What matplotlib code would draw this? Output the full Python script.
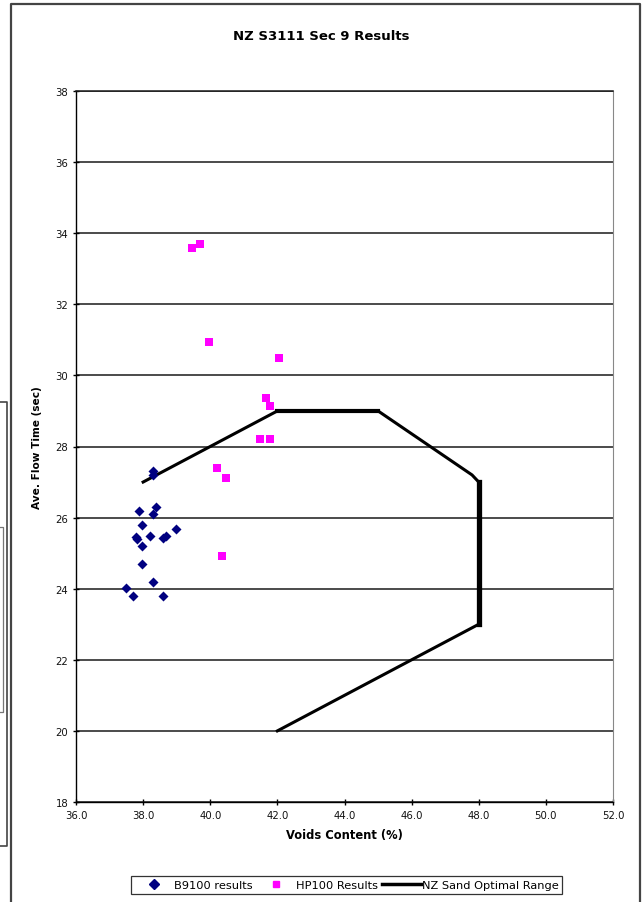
import matplotlib
matplotlib.use("Agg")
import matplotlib.pyplot as plt
from matplotlib.lines import Line2D

plt.rcParams['font.family'] = ['DejaVu Sans']

# Data
b9100_voids = [37.88, 38.38, 38.30, 37.98, 37.78, 37.82, 38.20, 38.60, 38.69, 38.99,
               37.98, 37.98, 38.30, 37.49, 37.70, 38.59, 38.28, 38.30]
b9100_flow = [26.19, 26.31, 26.10, 25.79, 25.45, 25.40, 25.47, 25.42, 25.47, 25.68,
              25.21, 24.70, 24.20, 24.01, 23.80, 23.80, 27.30, 27.20]

hp100_voids = [39.47, 39.68, 39.96, 42.04, 41.66, 41.78, 41.47, 41.78, 40.20, 40.48, 40.36]
hp100_flow = [33.58, 33.69, 30.95, 30.50, 29.36, 29.15, 28.21, 28.21, 27.39, 27.11, 24.93]

range_voids = [38.0, 42.0, 45.0, 47.8, 48.0, 48.0, 42.0]
range_flow = [27.0, 29.0, 29.0, 27.2, 27.0, 23.0, 20.0]

x_ticks = [36.0, 38.0, 40.0, 42.0, 44.0, 46.0, 48.0, 50.0, 52.0]
y_ticks = [18, 20, 22, 24, 26, 28, 30, 32, 34, 36, 38]

W, H = 643, 903
fig = plt.figure(figsize=(W / 100, H / 100), dpi=100)
fig.patch.set_facecolor('white')

left, right, top, bottom = 76, 613, 92, 803
ax = fig.add_axes([left / W, 1 - bottom / H, (right - left) / W, (bottom - top) / H])

ax.set_xlim(36, 52)
ax.set_ylim(18, 38)
ax.set_xticks(x_ticks)
ax.set_xticklabels([f"{v:.1f}" for v in x_ticks], fontsize=7.3)
ax.set_yticks(y_ticks)
ax.set_yticklabels([str(v) for v in y_ticks], fontsize=7.3)
ax.tick_params(direction='inout', length=5, width=1, color='black', pad=3,
               labelcolor='#111111')

ax.grid(axis='y', color='#1a1a1a', linewidth=1.1)
ax.set_axisbelow(True)
ax.spines['top'].set_color('#1a1a1a')
ax.spines['top'].set_linewidth(1.1)
ax.spines['right'].set_color('#888888')
ax.spines['right'].set_linewidth(0.8)
ax.spines['left'].set_color('black')
ax.spines['bottom'].set_color('black')
ax.spines['left'].set_linewidth(1.0)
ax.spines['bottom'].set_linewidth(1.0)

ax.plot(range_voids, range_flow, color='black', linewidth=2.2, solid_joinstyle='round',
        label='NZ Sand Optimal Range', zorder=2)
ax.plot(range_voids[4:6], range_flow[4:6], color='black', linewidth=3.8, zorder=2)
ax.plot(range_voids[1:3], range_flow[1:3], color='black', linewidth=3.0, zorder=2)

ax.scatter(b9100_voids, b9100_flow, marker='D', s=26, color='#000080', linewidths=0,
           label='B9100 results', zorder=3)
ax.scatter(hp100_voids, hp100_flow, marker='s', s=30, color='#FF00FF', linewidths=0,
           label='HP100 Results', zorder=3)

ax.set_xlabel('Voids Content (%)', fontsize=8.3, fontweight='bold', labelpad=6)
ax.set_ylabel('Ave. Flow Time (sec)', fontsize=7.6, fontweight='bold', labelpad=10)

fig.text(0.5, 1 - 36 / H, 'NZ S3111 Sec 9 Results', ha='center', va='center',
         fontsize=9.5, fontweight='bold')

handles = [
    Line2D([], [], marker='D', color='#000080', linestyle='none', markersize=4.8),
    Line2D([], [], marker='s', color='#FF00FF', linestyle='none', markersize=5),
    Line2D([], [], color='black', linewidth=2.5),
]
labels = ['B9100 results', 'HP100 Results', 'NZ Sand Optimal Range']
leg = fig.legend(handles, labels, loc='center', bbox_to_anchor=(346.5 / W, 1 - 886 / H),
                 ncol=3, fontsize=8.2, frameon=True, fancybox=False, edgecolor='black',
                 handlelength=3.4, columnspacing=0.3, handletextpad=0.1,
                 borderpad=0.35, borderaxespad=0)
leg.get_frame().set_linewidth(0.9)


def fline(xs, ys, lw=1.5, color='#444444'):
    fig.add_artist(Line2D([x / W for x in xs], [1 - y / H for y in ys],
                          transform=fig.transFigure, color=color, linewidth=lw))

# Chart area border (cut off at bottom)
fline([10.5, 10.5, 639.5, 639.5], [905, 4.5, 4.5, 905], lw=1.6)
# Page fragments at left edge
fline([0, 7, 7, 0], [403, 403, 847, 847], lw=1.2)
fline([0, 2.5, 2.5, 0], [528, 528, 713, 713], lw=0.9, color='#777777')

fig.savefig('out.png', dpi=100)
